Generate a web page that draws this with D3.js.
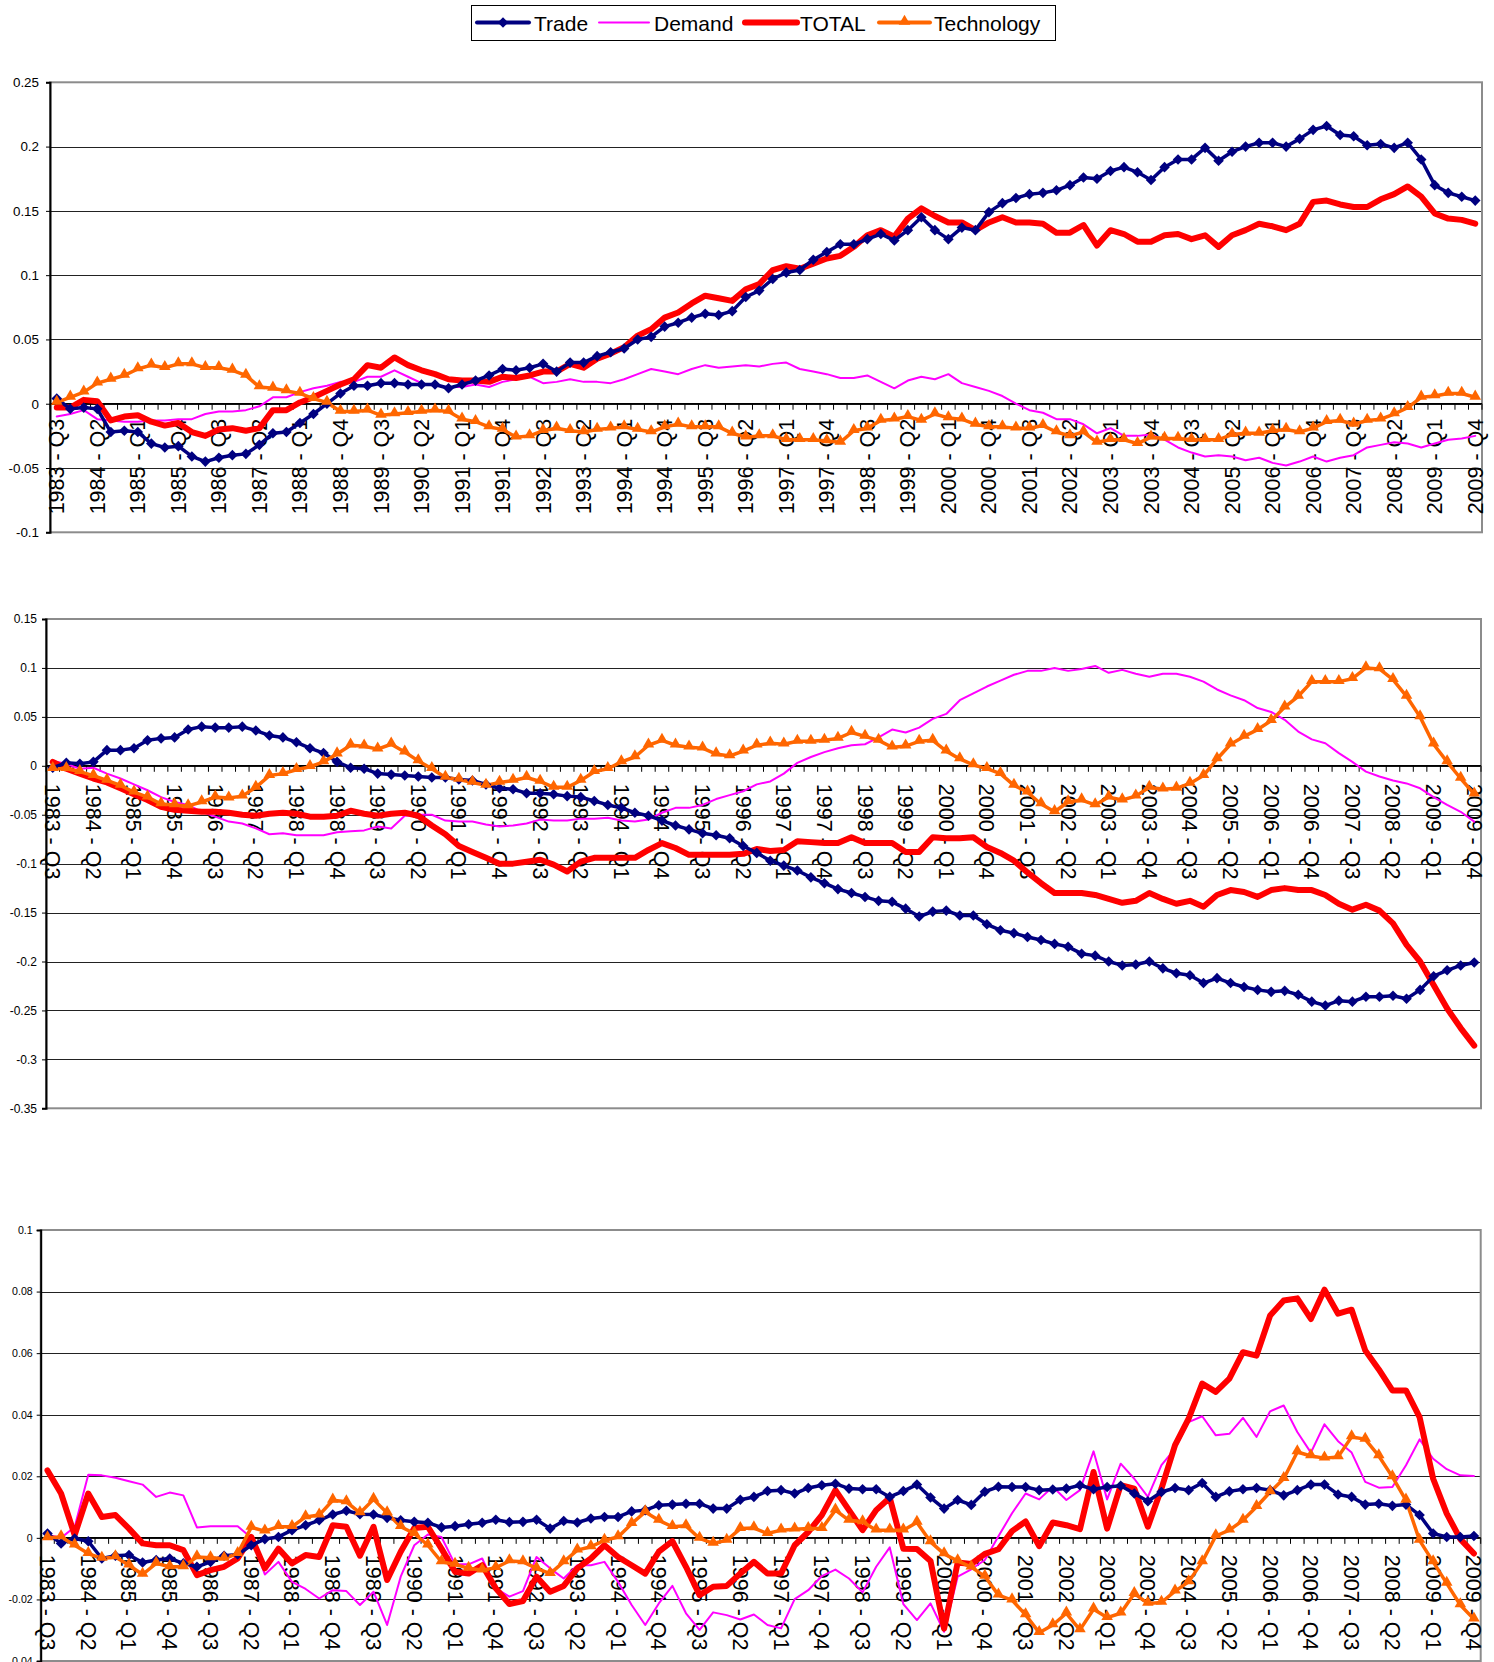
<!DOCTYPE html>
<html>
<head>
<meta charset="utf-8">
<script src="https://cdn.jsdelivr.net/npm/d3@7"></script>
<style>
  body { margin: 0; background: #fff; }
  svg text { font-family: "Liberation Sans", Arial, Helvetica, sans-serif; fill: #000; }
</style>
</head>
<body>
<svg id="chart" width="1494" height="1662"></svg>
<script>

// categories
var quarters = [
    "1983 - Q3", "1983 - Q4",
    "1984 - Q1", "1984 - Q2", "1984 - Q3", "1984 - Q4",
    "1985 - Q1", "1985 - Q2", "1985 - Q3", "1985 - Q4",
    "1986 - Q1", "1986 - Q2", "1986 - Q3", "1986 - Q4",
    "1987 - Q1", "1987 - Q2", "1987 - Q3", "1987 - Q4",
    "1988 - Q1", "1988 - Q2", "1988 - Q3", "1988 - Q4",
    "1989 - Q1", "1989 - Q2", "1989 - Q3", "1989 - Q4",
    "1990 - Q1", "1990 - Q2", "1990 - Q3", "1990 - Q4",
    "1991 - Q1", "1991 - Q2", "1991 - Q3", "1991 - Q4",
    "1992 - Q1", "1992 - Q2", "1992 - Q3", "1992 - Q4",
    "1993 - Q1", "1993 - Q2", "1993 - Q3", "1993 - Q4",
    "1994 - Q1", "1994 - Q2", "1994 - Q3", "1994 - Q4",
    "1995 - Q1", "1995 - Q2", "1995 - Q3", "1995 - Q4",
    "1996 - Q1", "1996 - Q2", "1996 - Q3", "1996 - Q4",
    "1997 - Q1", "1997 - Q2", "1997 - Q3", "1997 - Q4",
    "1998 - Q1", "1998 - Q2", "1998 - Q3", "1998 - Q4",
    "1999 - Q1", "1999 - Q2", "1999 - Q3", "1999 - Q4",
    "2000 - Q1", "2000 - Q2", "2000 - Q3", "2000 - Q4",
    "2001 - Q1", "2001 - Q2", "2001 - Q3", "2001 - Q4",
    "2002 - Q1", "2002 - Q2", "2002 - Q3", "2002 - Q4",
    "2003 - Q1", "2003 - Q2", "2003 - Q3", "2003 - Q4",
    "2004 - Q1", "2004 - Q2", "2004 - Q3", "2004 - Q4",
    "2005 - Q1", "2005 - Q2", "2005 - Q3", "2005 - Q4",
    "2006 - Q1", "2006 - Q2", "2006 - Q3", "2006 - Q4",
    "2007 - Q1", "2007 - Q2", "2007 - Q3", "2007 - Q4",
    "2008 - Q1", "2008 - Q2", "2008 - Q3", "2008 - Q4",
    "2009 - Q1", "2009 - Q2", "2009 - Q3", "2009 - Q4"
];

var seriesNames = ["Trade", "Demand", "TOTAL", "Technology"];

// top chart
var p1Trade = [
    0.004, -0.004, -0.003, -0.004, -0.022, -0.021, -0.022, -0.031, -0.034, -0.033,
    -0.041, -0.045, -0.042, -0.040, -0.039, -0.032, -0.023, -0.022, -0.015, -0.008,
    0.000, 0.008, 0.014, 0.014, 0.016, 0.016, 0.015, 0.015, 0.015, 0.012,
    0.015, 0.018, 0.022, 0.027, 0.026, 0.028, 0.031, 0.025, 0.032, 0.032,
    0.037, 0.040, 0.043, 0.050, 0.052, 0.060, 0.063, 0.067, 0.070, 0.069,
    0.072, 0.083, 0.088, 0.097, 0.102, 0.104, 0.112, 0.118, 0.124, 0.124,
    0.128, 0.132, 0.127, 0.135, 0.145, 0.135, 0.128, 0.137, 0.135, 0.149,
    0.156, 0.160, 0.163, 0.164, 0.166, 0.170, 0.176, 0.175, 0.181, 0.184,
    0.180, 0.174, 0.184, 0.190, 0.190, 0.199, 0.189, 0.196, 0.200, 0.203,
    0.203, 0.200, 0.206, 0.213, 0.216, 0.209, 0.208, 0.201, 0.202, 0.199,
    0.203, 0.190, 0.170, 0.164, 0.161, 0.158
];
var p1Demand = [
    -0.010, -0.008, -0.005, -0.012, -0.013, -0.014, -0.014, -0.013, -0.013, -0.012,
    -0.012, -0.008, -0.006, -0.006, -0.005, -0.002, 0.005, 0.005, 0.009, 0.012,
    0.014, 0.017, 0.017, 0.021, 0.021, 0.026, 0.021, 0.016, 0.014, 0.013,
    0.013, 0.015, 0.013, 0.017, 0.019, 0.021, 0.016, 0.017, 0.019, 0.017,
    0.017, 0.016, 0.019, 0.023, 0.027, 0.025, 0.023, 0.027, 0.030, 0.028,
    0.029, 0.030, 0.029, 0.031, 0.032, 0.027, 0.025, 0.023, 0.020, 0.020,
    0.022, 0.017, 0.012, 0.018, 0.021, 0.019, 0.023, 0.016, 0.013, 0.010,
    0.006, 0.000, -0.005, -0.007, -0.012, -0.012, -0.016, -0.023, -0.019, -0.025,
    -0.025, -0.024, -0.028, -0.034, -0.038, -0.041, -0.040, -0.041, -0.044, -0.042,
    -0.046, -0.048, -0.045, -0.041, -0.045, -0.042, -0.040, -0.034, -0.032, -0.030,
    -0.031, -0.034, -0.031, -0.028, -0.027, -0.025
];
var p1Total = [
    -0.003, -0.003, 0.003, 0.002, -0.013, -0.010, -0.009, -0.014, -0.017, -0.015,
    -0.022, -0.025, -0.020, -0.019, -0.021, -0.019, -0.005, -0.005, 0.001, 0.005,
    0.010, 0.015, 0.019, 0.030, 0.028, 0.036, 0.030, 0.026, 0.023, 0.019,
    0.018, 0.018, 0.017, 0.021, 0.020, 0.022, 0.025, 0.025, 0.031, 0.028,
    0.035, 0.039, 0.044, 0.053, 0.058, 0.067, 0.071, 0.078, 0.084, 0.082,
    0.080, 0.089, 0.093, 0.104, 0.107, 0.105, 0.109, 0.113, 0.115, 0.122,
    0.131, 0.135, 0.130, 0.144, 0.152, 0.146, 0.141, 0.141, 0.135, 0.141,
    0.145, 0.141, 0.141, 0.140, 0.133, 0.133, 0.139, 0.123, 0.135, 0.132,
    0.126, 0.126, 0.131, 0.132, 0.128, 0.131, 0.122, 0.131, 0.135, 0.140,
    0.138, 0.135, 0.140, 0.157, 0.158, 0.155, 0.153, 0.153, 0.159, 0.163,
    0.169, 0.161, 0.148, 0.144, 0.143, 0.140
];
var p1Tech = [
    0.001, 0.005, 0.009, 0.016, 0.019, 0.022, 0.027, 0.030, 0.028, 0.031,
    0.031, 0.028, 0.028, 0.026, 0.022, 0.013, 0.012, 0.010, 0.008, 0.004,
    0.001, -0.006, -0.006, -0.005, -0.009, -0.008, -0.007, -0.006, -0.005, -0.006,
    -0.012, -0.014, -0.018, -0.020, -0.026, -0.025, -0.021, -0.019, -0.021, -0.022,
    -0.020, -0.019, -0.018, -0.020, -0.022, -0.018, -0.016, -0.018, -0.018, -0.018,
    -0.023, -0.026, -0.025, -0.025, -0.028, -0.028, -0.028, -0.029, -0.030, -0.021,
    -0.019, -0.013, -0.012, -0.010, -0.013, -0.008, -0.011, -0.012, -0.016, -0.018,
    -0.018, -0.019, -0.019, -0.017, -0.022, -0.025, -0.022, -0.030, -0.028, -0.028,
    -0.031, -0.026, -0.027, -0.027, -0.028, -0.028, -0.028, -0.024, -0.023, -0.023,
    -0.021, -0.020, -0.022, -0.019, -0.014, -0.013, -0.016, -0.013, -0.012, -0.008,
    -0.003, 0.005, 0.006, 0.008, 0.008, 0.005
];

// middle chart
var p2Trade = [
    -0.002, 0.003, 0.002, 0.004, 0.016, 0.016, 0.018, 0.026, 0.028, 0.029,
    0.037, 0.040, 0.039, 0.039, 0.040, 0.036, 0.031, 0.029, 0.024, 0.018,
    0.013, 0.004, -0.002, -0.003, -0.008, -0.009, -0.010, -0.011, -0.012, -0.012,
    -0.014, -0.015, -0.019, -0.023, -0.024, -0.028, -0.028, -0.029, -0.031, -0.032,
    -0.036, -0.040, -0.043, -0.048, -0.051, -0.056, -0.061, -0.065, -0.069, -0.071,
    -0.074, -0.082, -0.089, -0.097, -0.102, -0.107, -0.114, -0.120, -0.126, -0.130,
    -0.134, -0.138, -0.139, -0.146, -0.154, -0.149, -0.148, -0.153, -0.153, -0.162,
    -0.168, -0.171, -0.175, -0.178, -0.182, -0.185, -0.192, -0.194, -0.200, -0.204,
    -0.203, -0.200, -0.207, -0.212, -0.214, -0.222, -0.217, -0.222, -0.226, -0.229,
    -0.231, -0.230, -0.234, -0.241, -0.245, -0.240, -0.241, -0.236, -0.236, -0.235,
    -0.238, -0.229, -0.215, -0.209, -0.204, -0.201
];
var p2Demand = [
    0.005, 0.002, -0.003, -0.002, -0.008, -0.013, -0.019, -0.025, -0.032, -0.037,
    -0.040, -0.047, -0.052, -0.057, -0.059, -0.064, -0.070, -0.069, -0.071, -0.071,
    -0.071, -0.068, -0.067, -0.066, -0.062, -0.064, -0.051, -0.050, -0.050, -0.056,
    -0.057, -0.057, -0.060, -0.062, -0.061, -0.059, -0.055, -0.056, -0.056, -0.054,
    -0.054, -0.053, -0.056, -0.057, -0.055, -0.048, -0.043, -0.043, -0.040, -0.034,
    -0.030, -0.026, -0.019, -0.016, -0.008, 0.003, 0.009, 0.014, 0.018, 0.021,
    0.022, 0.029, 0.037, 0.034, 0.039, 0.048, 0.053, 0.067, 0.074, 0.081,
    0.087, 0.093, 0.097, 0.097, 0.100, 0.097, 0.099, 0.102, 0.095, 0.098,
    0.094, 0.091, 0.094, 0.094, 0.091, 0.086, 0.078, 0.072, 0.067, 0.059,
    0.055, 0.047, 0.035, 0.027, 0.023, 0.013, 0.004, -0.006, -0.011, -0.015,
    -0.018, -0.023, -0.032, -0.040, -0.047, -0.057
];
var p2Total = [
    0.004, -0.003, -0.008, -0.013, -0.017, -0.023, -0.029, -0.035, -0.042, -0.045,
    -0.046, -0.047, -0.047, -0.048, -0.050, -0.051, -0.049, -0.048, -0.049, -0.052,
    -0.052, -0.051, -0.046, -0.049, -0.051, -0.049, -0.048, -0.051, -0.061, -0.070,
    -0.082, -0.088, -0.094, -0.100, -0.100, -0.098, -0.096, -0.101, -0.108, -0.098,
    -0.094, -0.094, -0.094, -0.094, -0.086, -0.079, -0.084, -0.091, -0.091, -0.091,
    -0.091, -0.090, -0.085, -0.087, -0.086, -0.077, -0.078, -0.079, -0.079, -0.073,
    -0.079, -0.079, -0.079, -0.088, -0.088, -0.073, -0.074, -0.074, -0.073, -0.083,
    -0.089, -0.097, -0.109, -0.120, -0.130, -0.130, -0.130, -0.132, -0.136, -0.140,
    -0.138, -0.130, -0.136, -0.141, -0.138, -0.144, -0.132, -0.127, -0.129, -0.134,
    -0.127, -0.125, -0.127, -0.127, -0.132, -0.141, -0.147, -0.142, -0.148, -0.161,
    -0.183, -0.200, -0.224, -0.248, -0.268, -0.286
];
var p2Tech = [
    -0.003, -0.003, -0.006, -0.010, -0.015, -0.020, -0.027, -0.032, -0.039, -0.040,
    -0.041, -0.037, -0.032, -0.033, -0.031, -0.022, -0.010, -0.008, -0.004, -0.001,
    0.004, 0.012, 0.021, 0.020, 0.017, 0.022, 0.014, 0.005, -0.003, -0.012,
    -0.014, -0.017, -0.020, -0.017, -0.015, -0.012, -0.016, -0.022, -0.022, -0.015,
    -0.006, -0.003, 0.004, 0.009, 0.021, 0.026, 0.021, 0.019, 0.018, 0.012,
    0.010, 0.015, 0.021, 0.023, 0.022, 0.025, 0.025, 0.026, 0.028, 0.034,
    0.030, 0.026, 0.019, 0.020, 0.025, 0.026, 0.015, 0.007, 0.001, -0.003,
    -0.008, -0.020, -0.027, -0.039, -0.047, -0.037, -0.035, -0.040, -0.032, -0.035,
    -0.031, -0.022, -0.024, -0.023, -0.018, -0.010, 0.007, 0.022, 0.030, 0.037,
    0.046, 0.060, 0.071, 0.086, 0.086, 0.086, 0.089, 0.100, 0.099, 0.088,
    0.071, 0.050, 0.022, 0.004, -0.013, -0.029
];

// bottom chart
var p3Trade = [
    0.0014, -0.0018, -0.0002, -0.0011, -0.0067, -0.0058, -0.0056, -0.0080, -0.0072, -0.0067,
    -0.0083, -0.0094, -0.0078, -0.0058, -0.0054, -0.0024, -0.0004, 0.0003, 0.0025, 0.0041,
    0.0057, 0.0076, 0.0088, 0.0077, 0.0076, 0.0065, 0.0057, 0.0052, 0.0049, 0.0034,
    0.0038, 0.0044, 0.0049, 0.0059, 0.0051, 0.0052, 0.0059, 0.0030, 0.0055, 0.0050,
    0.0063, 0.0068, 0.0068, 0.0086, 0.0090, 0.0106, 0.0108, 0.0111, 0.0111, 0.0095,
    0.0095, 0.0124, 0.0133, 0.0152, 0.0155, 0.0144, 0.0162, 0.0171, 0.0176, 0.0160,
    0.0158, 0.0158, 0.0133, 0.0152, 0.0173, 0.0131, 0.0095, 0.0123, 0.0107, 0.0150,
    0.0166, 0.0165, 0.0165, 0.0155, 0.0157, 0.0160, 0.0171, 0.0158, 0.0165, 0.0169,
    0.0144, 0.0119, 0.0149, 0.0162, 0.0155, 0.0178, 0.0133, 0.0151, 0.0158, 0.0162,
    0.0155, 0.0138, 0.0155, 0.0173, 0.0173, 0.0141, 0.0133, 0.0108, 0.0111, 0.0104,
    0.0108, 0.0074, 0.0014, 0.0003, 0.0003, 0.0006
];
var p3Demand = [
    0.0010, 0.0000, 0.0035, 0.0205, 0.0203, 0.0195, 0.0184, 0.0173, 0.0133, 0.0147,
    0.0138, 0.0034, 0.0038, 0.0038, 0.0038, 0.0000, -0.0119, -0.0078, -0.0143, -0.0166,
    -0.0197, -0.0170, -0.0173, -0.0218, -0.0175, -0.0283, -0.0126, -0.0024, 0.0011, 0.0003,
    -0.0086, -0.0086, -0.0067, -0.0164, -0.0191, -0.0173, -0.0062, -0.0099, -0.0132, -0.0089,
    -0.0089, -0.0078, -0.0143, -0.0218, -0.0283, -0.0213, -0.0156, -0.0245, -0.0299, -0.0242,
    -0.0251, -0.0265, -0.0249, -0.0283, -0.0294, -0.0199, -0.0170, -0.0124, -0.0103, -0.0132,
    -0.0177, -0.0094, -0.0031, -0.0215, -0.0267, -0.0213, -0.0305, -0.0126, -0.0102, -0.0072,
    0.0005, 0.0080, 0.0144, 0.0125, 0.0166, 0.0123, 0.0155, 0.0281, 0.0125, 0.0241,
    0.0192, 0.0133, 0.0236, 0.0290, 0.0376, 0.0395, 0.0333, 0.0338, 0.0390, 0.0328,
    0.0411, 0.0430, 0.0344, 0.0277, 0.0369, 0.0314, 0.0277, 0.0182, 0.0163, 0.0165,
    0.0236, 0.0320, 0.0257, 0.0223, 0.0203, 0.0201
];
var p3Total = [
    0.0219, 0.0144, 0.0009, 0.0144, 0.0068, 0.0074, 0.0030, -0.0018, -0.0024, -0.0024,
    -0.0040, -0.0121, -0.0105, -0.0094, -0.0067, 0.0003, -0.0099, -0.0035, -0.0083, -0.0056,
    -0.0062, 0.0041, 0.0036, -0.0058, 0.0036, -0.0137, -0.0045, 0.0032, 0.0036, -0.0035,
    -0.0110, -0.0116, -0.0089, -0.0164, -0.0215, -0.0205, -0.0126, -0.0175, -0.0156, -0.0099,
    -0.0067, -0.0024, -0.0062, -0.0089, -0.0116, -0.0045, -0.0011, -0.0094, -0.0186, -0.0159,
    -0.0156, -0.0116, -0.0078, -0.0116, -0.0116, -0.0024, 0.0019, 0.0074, 0.0155, 0.0090,
    0.0025, 0.0090, 0.0130, -0.0035, -0.0036, -0.0075, -0.0295, -0.0080, -0.0085, -0.0052,
    -0.0037, 0.0022, 0.0053, -0.0027, 0.0050, 0.0041, 0.0028, 0.0214, 0.0030, 0.0171,
    0.0160, 0.0036, 0.0160, 0.0301, 0.0387, 0.0501, 0.0474, 0.0517, 0.0603, 0.0592,
    0.0722, 0.0771, 0.0778, 0.0711, 0.0806, 0.0728, 0.0741, 0.0609, 0.0547, 0.0479,
    0.0479, 0.0392, 0.0192, 0.0079, -0.0004, -0.0051
];
var p3Tech = [
    0.0000, 0.0003, -0.0024, -0.0051, -0.0067, -0.0062, -0.0089, -0.0119, -0.0083, -0.0094,
    -0.0094, -0.0062, -0.0065, -0.0067, -0.0051, 0.0034, 0.0022, 0.0036, 0.0036, 0.0068,
    0.0074, 0.0122, 0.0117, 0.0081, 0.0125, 0.0081, 0.0036, 0.0014, -0.0024, -0.0078,
    -0.0086, -0.0099, -0.0105, -0.0097, -0.0075, -0.0078, -0.0099, -0.0116, -0.0078, -0.0040,
    -0.0029, -0.0008, 0.0003, 0.0046, 0.0084, 0.0057, 0.0036, 0.0039, -0.0002, -0.0018,
    -0.0008, 0.0030, 0.0032, 0.0014, 0.0025, 0.0028, 0.0030, 0.0030, 0.0090, 0.0057,
    0.0052, 0.0025, 0.0025, 0.0025, 0.0050, -0.0013, -0.0052, -0.0075, -0.0095, -0.0125,
    -0.0186, -0.0202, -0.0250, -0.0308, -0.0283, -0.0245, -0.0299, -0.0232, -0.0259, -0.0245,
    -0.0181, -0.0213, -0.0210, -0.0173, -0.0143, -0.0078, 0.0006, 0.0025, 0.0057, 0.0101,
    0.0149, 0.0192, 0.0279, 0.0266, 0.0259, 0.0263, 0.0328, 0.0320, 0.0266, 0.0198,
    0.0122, -0.0008, -0.0078, -0.0148, -0.0218, -0.0264
];

// value axis ticks
var p1Ticks = [-0.1, -0.05, 0, 0.05, 0.1, 0.15, 0.2, 0.25];
var p2Ticks = [-0.35, -0.3, -0.25, -0.2, -0.15, -0.1, -0.05, 0, 0.05, 0.1, 0.15];
var p3Ticks = [-0.04, -0.02, 0, 0.02, 0.04, 0.06, 0.08, 0.1];
var labelStep = 3;

var colors = {Trade: "#000080", Demand: "#ff00ff", TOTAL: "#ff0000", Technology: "#ff6600"};
var widths = {Trade: 3.5, Demand: 2, TOTAL: 6, Technology: 3.5};
var drawOrder = ["Demand", "TOTAL", "Trade", "Technology"];

var svg = d3.select("#chart");

var diamond = d3.symbol().type(d3.symbolSquare).size(56);
var triangle = d3.symbol().type(d3.symbolTriangle).size(58);

function fmtTick(d) {
    return String(+d.toFixed(2));
}

function drawPanel(cfg) {
    var g = svg.append("g");

    var x = d3.scaleBand()
        .domain(quarters)
        .range([cfg.left, cfg.right]);
    var bw = x.bandwidth();
    var cx = function (i) { return x(quarters[i]) + bw / 2; };

    var y = d3.scaleLinear()
        .domain([cfg.ticks[0], cfg.ticks[cfg.ticks.length - 1]])
        .range([cfg.bottom, cfg.top]);

    // gridlines
    g.selectAll("line.grid")
        .data(cfg.ticks.slice(1, -1))
        .enter()
        .append("line")
        .attr("x1", cfg.left).attr("x2", cfg.right)
        .attr("y1", function (d) { return Math.round(y(d)) + 0.5; })
        .attr("y2", function (d) { return Math.round(y(d)) + 0.5; })
        .attr("stroke", "#222")
        .attr("stroke-width", 1);

    // plot frame
    g.append("rect")
        .attr("x", cfg.left).attr("y", cfg.top)
        .attr("width", cfg.right - cfg.left)
        .attr("height", cfg.bottom - cfg.top)
        .attr("fill", "none")
        .attr("stroke", "#8c8c8c")
        .attr("stroke-width", 2);

    // value axis
    var yAxis = d3.axisLeft(y)
        .tickValues(cfg.ticks)
        .tickSize(4)
        .tickPadding(cfg.tickPad)
        .tickFormat(fmtTick);
    var ya = g.append("g")
        .attr("transform", "translate(" + cfg.left + ",0)")
        .call(yAxis);
    ya.select(".domain").attr("stroke", "#000").attr("stroke-width", 2);
    ya.selectAll(".tick line").attr("stroke", "#000");
    ya.selectAll(".tick text")
        .attr("font-size", cfg.tickFont)
        .attr("font-family", "Liberation Sans, Arial, sans-serif")
        .attr("fill", "#000");

    // category axis at zero
    var y0 = y(0);
    g.append("line")
        .attr("x1", cfg.left).attr("x2", cfg.right)
        .attr("y1", y0).attr("y2", y0)
        .attr("stroke", "#000")
        .attr("stroke-width", 1.5);

    var edges = quarters.map(function (q) { return x(q); }).concat([cfg.right]);
    g.selectAll("line.ctick")
        .data(edges)
        .enter()
        .append("line")
        .attr("x1", function (d) { return d; })
        .attr("x2", function (d) { return d; })
        .attr("y1", y0).attr("y2", y0 + 6)
        .attr("stroke", "#000")
        .attr("stroke-width", 1);

    var labelIdx = d3.range(0, quarters.length, labelStep);
    g.selectAll("text.cat")
        .data(labelIdx)
        .enter()
        .append("text")
        .attr("transform", function (i) {
            return "translate(" + cx(i) + "," + (y0 + cfg.labelGap) + ") rotate(" + cfg.rotate + ")";
        })
        .attr("text-anchor", cfg.rotate < 0 ? "end" : "start")
        .attr("dy", "0.35em")
        .attr("font-size", 21.5)
        .text(function (i) { return quarters[i]; });

    // series lines
    var line = d3.line()
        .x(function (d, i) { return cx(i); })
        .y(function (d) { return y(d); });

    drawOrder.forEach(function (name) {
        g.append("path")
            .datum(cfg.data[name])
            .attr("d", line)
            .attr("fill", "none")
            .attr("stroke", colors[name])
            .attr("stroke-width", widths[name])
            .attr("stroke-linejoin", "round")
            .attr("stroke-linecap", "round");
    });

    // markers
    g.selectAll("path.tradeMark")
        .data(cfg.data.Trade)
        .enter()
        .append("path")
        .attr("d", diamond)
        .attr("transform", function (d, i) {
            return "translate(" + cx(i) + "," + y(d) + ") rotate(45)";
        })
        .attr("fill", colors.Trade);

    g.selectAll("path.techMark")
        .data(cfg.data.Technology)
        .enter()
        .append("path")
        .attr("d", triangle)
        .attr("transform", function (d, i) {
            return "translate(" + cx(i) + "," + (y(d) - 1) + ")";
        })
        .attr("fill", colors.Technology);
}

drawPanel({
    left: 50, right: 1482, top: 82.3, bottom: 532.3,
    ticks: p1Ticks, tickFont: 13.4, tickPad: 7,
    rotate: -90, labelGap: 15,
    data: {Trade: p1Trade, Demand: p1Demand, TOTAL: p1Total, Technology: p1Tech}
});

drawPanel({
    left: 46, right: 1481, top: 619, bottom: 1108.3,
    ticks: p2Ticks, tickFont: 12, tickPad: 5,
    rotate: 90, labelGap: 18,
    data: {Trade: p2Trade, Demand: p2Demand, TOTAL: p2Total, Technology: p2Tech}
});

drawPanel({
    left: 40.7, right: 1480.7, top: 1230, bottom: 1661,
    ticks: p3Ticks, tickFont: 10.6, tickPad: 4,
    rotate: 90, labelGap: 17,
    data: {Trade: p3Trade, Demand: p3Demand, TOTAL: p3Total, Technology: p3Tech}
});

// legend
var legend = svg.append("g");
legend.append("rect")
    .attr("x", 471.5).attr("y", 5.5)
    .attr("width", 584).attr("height", 35)
    .attr("fill", "#fff")
    .attr("stroke", "#000")
    .attr("stroke-width", 1);

var legendItems = [
    {name: "Trade", x1: 477, x2: 529, tx: 534},
    {name: "Demand", x1: 599, x2: 649, tx: 654},
    {name: "TOTAL", x1: 745, x2: 797, tx: 800},
    {name: "Technology", x1: 879, x2: 930, tx: 934}
];
legendItems.forEach(function (d) {
    legend.append("line")
        .attr("x1", d.x1).attr("x2", d.x2)
        .attr("y1", 22.5).attr("y2", 22.5)
        .attr("stroke", colors[d.name])
        .attr("stroke-width", d.name === "TOTAL" ? 6 : (d.name === "Demand" ? 2 : 4))
        .attr("stroke-linecap", "round");
    if (d.name === "Trade") {
        legend.append("path")
            .attr("d", diamond)
            .attr("transform", "translate(" + ((d.x1 + d.x2) / 2) + ",22.5) rotate(45)")
            .attr("fill", colors.Trade);
    }
    if (d.name === "Technology") {
        legend.append("path")
            .attr("d", triangle)
            .attr("transform", "translate(" + ((d.x1 + d.x2) / 2) + ",21.5)")
            .attr("fill", colors.Technology);
    }
    legend.append("text")
        .attr("x", d.tx).attr("y", 30.5)
        .attr("font-size", 21)
        .text(d.name);
});

</script>
</body>
</html>
